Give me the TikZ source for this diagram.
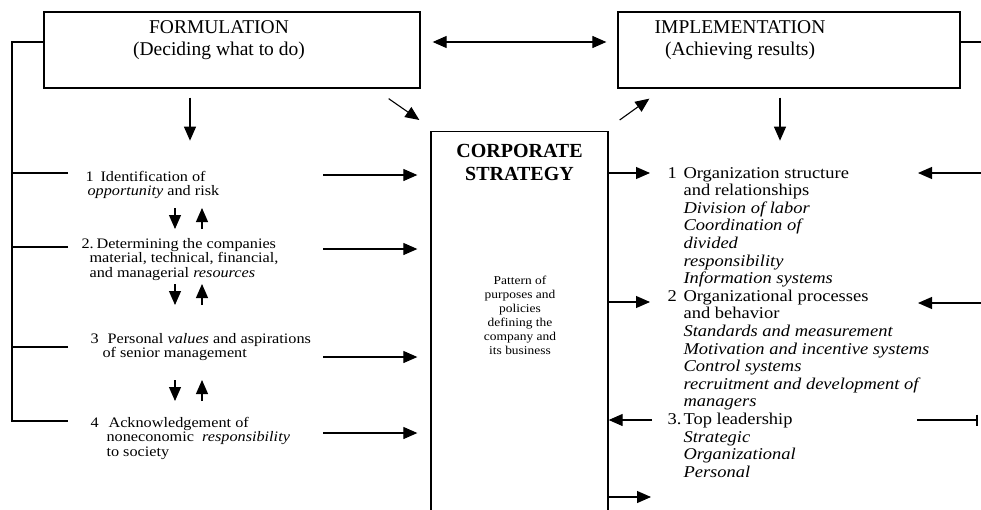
\documentclass[tikz,border=0pt]{standalone}
\usepackage{fontspec}
\setmainfont{Liberation Serif}
\newfontfamily\widerm[FakeStretch=1.12]{Liberation Serif}
\usetikzlibrary{arrows.meta,positioning}

\begin{document}
\begin{tikzpicture}[
  x=1pt, y=-1pt, line width=1.1pt,
  box/.style={draw, line width=1.3pt, inner sep=0pt},
  headtext/.style={align=center, font=\fontsize{19.5}{21.5}\selectfont},
  arr/.style={-{Triangle[length=14pt,width=12pt]}},
  dblarr/.style={{Triangle[length=14pt,width=12pt]}-{Triangle[length=14pt,width=12pt]}},
  barline/.style={-{Bar[width=11pt,line width=1.6pt]}},
  litem/.style={anchor=base west, inner sep=0pt, font=\widerm\fontsize{14.5}{14.5}\selectfont},
  ritem/.style={anchor=base west, inner sep=0pt, font=\widerm\fontsize{16.5}{17.6}\selectfont},
  cstitle/.style={align=center, inner sep=2pt, font=\bfseries\fontsize{20}{23}\selectfont},
  note/.style={align=center, font=\widerm\fontsize{12}{14}\selectfont}
]
  \useasboundingbox (0,0) rectangle (981,509);
  \clip (0,0) rectangle (981,509);

  \node[box, minimum width=376pt, minimum height=76pt] (form) at (232,50) {};
  \node[headtext] (formtext) at (219,40) {FORMULATION\\(Deciding what to do)};
  \node[box, minimum width=342pt, minimum height=76pt] (impl) at (789,50) {};
  \node[headtext] (impltext) at (740,40) {IMPLEMENTATION\\(Achieving results)};
  \node[box, minimum width=177pt, minimum height=400pt, anchor=north] (cs) at (519.5,131) {};
  \node[cstitle, below=11pt of cs.north] (cstitle) {CORPORATE\\STRATEGY};
  \node[note] (pattern) at (520,315) {Pattern of\\purposes and\\policies\\defining the\\company and\\its business};

  \node[litem] (litem1) at (85,181) {\begin{tabular}[t]{@{}l@{}}\makebox[15pt][l]{1}Identification of\\\hspace*{2pt}\emph{opportunity} and risk\end{tabular}};
  \node[litem] (litem2) at (81,248) {\begin{tabular}[t]{@{}l@{}}\makebox[15pt][l]{2.}Determining the companies\\\hspace*{8pt}material, technical, financial,\\\hspace*{8pt}and managerial \emph{resources}\end{tabular}};
  \node[litem] (litem3) at (90,343) {\begin{tabular}[t]{@{}l@{}}\makebox[17pt][l]{3}Personal \emph{values} and aspirations\\\hspace*{12pt}of senior management\end{tabular}};
  \node[litem] (litem4) at (90,427) {\begin{tabular}[t]{@{}l@{}}\makebox[18pt][l]{4}Acknowledgement of\\\hspace*{16pt}noneconomic\ \ \emph{responsibility}\\\hspace*{16pt}to society\end{tabular}};

  \node[ritem] (ritem1) at (667,178) {\begin{tabular}[t]{@{}p{16pt}@{}l@{}}1 & Organization structure\\ & and relationships\\ & \emph{Division of labor}\\ & \emph{Coordination of}\\ & \emph{divided}\\ & \emph{responsibility}\\ & \emph{Information systems}\end{tabular}};
  \node[ritem] (ritem2) at (667,301.2) {\begin{tabular}[t]{@{}p{16pt}@{}l@{}}2 & Organizational processes\\ & and behavior\\ & \emph{Standards and measurement}\\ & \emph{Motivation and incentive systems}\\ & \emph{Control systems}\\ & \emph{recruitment and development of}\\ & \emph{managers}\end{tabular}};
  \node[ritem] (ritem3) at (667,424.4) {\begin{tabular}[t]{@{}p{16pt}@{}l@{}}3. & Top leadership\\ & \emph{Strategic}\\ & \emph{Organizational}\\ & \emph{Personal}\end{tabular}};

  \coordinate (spine) at (12,421);
  \coordinate (lb1) at (68,173);
  \coordinate (lb2) at (68,247);
  \coordinate (lb3) at (68,347);
  \coordinate (lb4) at (68,421);
  \coordinate (la1) at (323,175);
  \coordinate (la2) at (323,249);
  \coordinate (la3) at (323,357);
  \coordinate (la4) at (323,433);
  \coordinate (ra1) at (650,173);
  \coordinate (ra2) at (650,302);
  \coordinate (ra3) at (652,420);
  \coordinate (ra4) at (651,497);
  \coordinate (re1) at (918,173);
  \coordinate (re2) at (918,303);
  \coordinate (re3) at (917,420);
  \coordinate (pd1) at (175,208);
  \coordinate (pu1) at (202,229);
  \coordinate (pd2) at (175,284);
  \coordinate (pu2) at (202,305);
  \coordinate (pd3) at (175,380);
  \coordinate (pu3) at (202,401);

  \draw ([yshift=8pt]form.west) -| (spine) -- (lb4);
  \draw (lb1) -- (lb1 -| spine);
  \draw (lb2) -- (lb2 -| spine);
  \draw (lb3) -- (lb3 -| spine);
  \draw ([yshift=8pt]impl.east) -- +(30,0);
  \draw[dblarr, shorten <=12pt, shorten >=11pt] ([yshift=8pt]form.east) -- ([yshift=8pt]impl.west);
  \draw[arr] ([xshift=-42pt,yshift=-9pt]form.south) -- ++(0,43);
  \draw[arr] ([xshift=-9pt,yshift=-9pt]impl.south) -- ++(0,43);
  \draw[arr] ([xshift=-32pt,yshift=-10pt]form.south east) -- ([xshift=-11pt,yshift=11pt]cs.north west);
  \draw[arr] ([xshift=11pt,yshift=11pt]cs.north east) -- ([xshift=32pt,yshift=-10pt]impl.south west);
  \draw[arr, shorten >=13pt] (la1) -- (la1 -| cs.west);
  \draw[arr, shorten >=13pt] (la2) -- (la2 -| cs.west);
  \draw[arr, shorten >=13pt] (la3) -- (la3 -| cs.west);
  \draw[arr, shorten >=13pt] (la4) -- (la4 -| cs.west);
  \draw[arr] (ra1 -| cs.east) -- (ra1);
  \draw[arr] (ra2 -| cs.east) -- (ra2);
  \draw[arr] (ra3) -- (ra3 -| cs.east);
  \draw[arr] (ra4 -| cs.east) -- (ra4);
  \draw[arr] ([xshift=63pt]re1) -- (re1);
  \draw[arr] ([xshift=63pt]re2) -- (re2);
  \draw[barline] (re3) -- ([xshift=61pt]re3);
  \draw[arr] (pd1) -- ++(0,21);
  \draw[arr] (pu1) -- ++(0,-21);
  \draw[arr] (pd2) -- ++(0,21);
  \draw[arr] (pu2) -- ++(0,-21);
  \draw[arr] (pd3) -- ++(0,21);
  \draw[arr] (pu3) -- ++(0,-21);
\end{tikzpicture}
\end{document}
